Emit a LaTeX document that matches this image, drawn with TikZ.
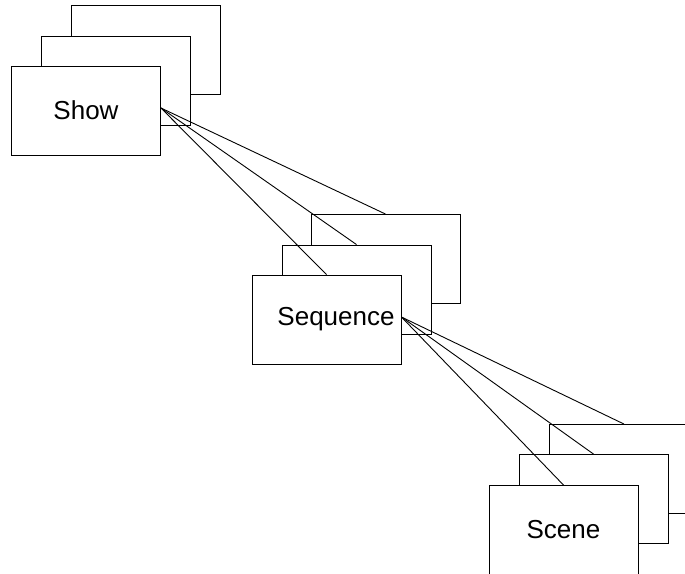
\documentclass[tikz,border=0pt]{standalone}
\usepackage{fontspec}
\setmainfont{Liberation Sans}
\begin{document}
\begin{tikzpicture}[x=1pt,y=-1pt,line width=0.9pt,
  card/.style={draw,fill=white,minimum width=149pt,minimum height=89pt,inner sep=0pt,
    font=\fontsize{26}{30}\selectfont}]
\useasboundingbox (0,0) rectangle (685,573);
\clip (0,0) rectangle (685,573);
% Show
\node[card] (show3) at (146,50) {};
\node[card] (show2) at (116,80.5) {};
\node[card] (show1) at (86,110.5) {Show};
% Sequence
\node[card] (seq3) at (385.5,259) {};
\node[card] (seq2) at (356.5,289.5) {};
\node[card] (seq1) at (326.5,319.5) {};
\node[font=\fontsize{26}{30}\selectfont] (seqlabel) at (336,319.5) {Sequence};
% Scene
\node[card] (scene3) at (624,469) {};
\node[card] (scene2) at (593.5,499) {};
\node[card] (scene1) at (563.5,530) {Scene};
% links
\coordinate (showout) at ([yshift=2.5pt]show1.east);
\coordinate (seqout) at ([yshift=2.5pt]seq1.east);
\foreach \i in {1,2,3} {
  \draw (showout) -- (seq\i.north);
  \draw (seqout) -- (scene\i.north);
}
\end{tikzpicture}
\end{document}
